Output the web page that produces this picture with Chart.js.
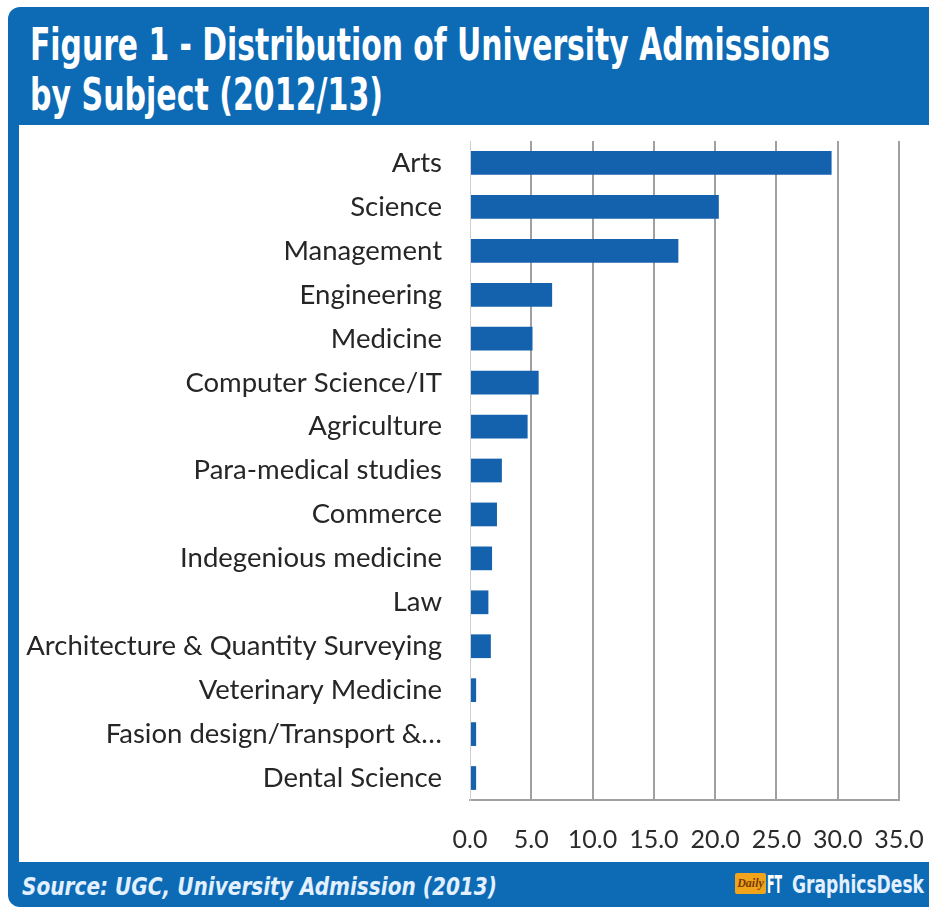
<!DOCTYPE html>
<html>
<head>
<meta charset="utf-8">
<script src="https://cdn.jsdelivr.net/npm/chart.js@4.4.0/dist/chart.umd.min.js"></script>
<style>
  html, body { margin: 0; padding: 0; background: #fff; overflow: hidden; }
  body { width: 929px; height: 909px; position: relative; }
  #frame {
    position: absolute; left: 8px; top: 7px; width: 940px; height: 900px;
    background: #0d6bb6; border-radius: 12px;
  }
  .narrow {
    position: absolute; white-space: nowrap; display: inline-block;
    font-family: "Liberation Sans Narrow", "DejaVu Sans Condensed", "Liberation Sans", sans-serif;
    font-weight: bold; line-height: 1; transform-origin: 0 0;
  }
  .title { color: #fff; font-size: 45px; left: 30px; }
  .foot { color: #e2f0ff; font-size: 25px; }
  #panel {
    position: absolute; left: 19px; top: 125px; width: 910px; height: 737px; background: #fff;
  }
  #logo {
    position: absolute; left: 735px; top: 873px; width: 31px; height: 21px;
    background: #f0a41c; border-radius: 2px; color: #7a3b00;
    font: italic bold 12px "Liberation Serif", serif; line-height: 21px; text-align: center;
  }
</style>
</head>
<body>
<div id="frame"></div>
<div class="narrow title" id="t1" style="top:22px">Figure 1 - Distribution of University Admissions</div>
<div class="narrow title" id="t2" style="top:72px">by Subject (2012/13)</div>
<div id="panel"><canvas id="myChart" width="910" height="737"></canvas></div>
<div class="narrow foot" id="src" style="left:22px; top:874px; font-style:italic">Source: UGC, University Admission (2013)</div>
<div id="logo">Daily</div>
<div class="narrow foot" id="ft" style="left:767px; top:872px; color:#fff">FT</div>
<div class="narrow foot" id="desk" style="left:792px; top:872px">GraphicsDesk</div>
<script>
'use strict';

const categories = [
	'Arts',
	'Science',
	'Management',
	'Engineering',
	'Medicine',
	'Computer Science/IT',
	'Agriculture',
	'Para-medical studies',
	'Commerce',
	'Indegenious medicine',
	'Law',
	'Architecture & Quantity Surveying',
	'Veterinary Medicine',
	'Fasion design/Transport &\u2026',
	'Dental Science',
];
const shares = [29.5, 20.3, 17.0, 6.7, 5.1, 5.6, 4.7, 2.6, 2.2, 1.8, 1.5, 1.7, 0.5, 0.5, 0.5];
const xTicks = [0, 5, 10, 15, 20, 25, 30, 35];

// squeeze the condensed headline text to the widths in the original
const fitWidth = (id, w) => {
	const el = document.getElementById(id);
	const r = el.getBoundingClientRect().width;
	el.style.transform = 'scaleX(' + (w / r) + ')';
};
fitWidth('t1', 800);
fitWidth('t2', 353);
fitWidth('src', 475);
fitWidth('ft', 15);
fitWidth('desk', 132);

const labelFont = { family: 'Lato, "Open Sans", sans-serif', size: 27.5 };
const tickFont = { family: 'Lato, "Open Sans", sans-serif', size: 25 };

const ctx = document.getElementById('myChart').getContext('2d');

const myChart = new Chart(ctx, {
	type: 'bar',
	data: {
		labels: categories,
		datasets: [
			{
				data: shares,
				backgroundColor: '#1461ae',
				borderWidth: 0,
				barPercentage: 0.54,
				categoryPercentage: 1,
			},
		],
	},
	options: {
		indexAxis: 'y',
		responsive: false,
		animation: false,
		layout: {
			padding: { top: 16, right: 30, left: 0, bottom: 0 },
		},
		plugins: {
			legend: { display: false },
			tooltip: { enabled: false },
		},
		scales: {
			x: {
				min: xTicks[0],
				max: xTicks[xTicks.length - 1],
				afterBuildTicks: (scale) => {
					scale.ticks = xTicks.map((v) => ({ value: v }));
				},
				afterFit: (scale) => {
					scale.height = 62;
					scale.paddingLeft = 0;
					scale.paddingRight = 0;
				},
				ticks: {
					callback: (v) => Number(v).toFixed(1),
					font: tickFont,
					color: '#2b2b2b',
					padding: 25,
					maxRotation: 0,
				},
				grid: {
					drawTicks: false,
					lineWidth: 2,
					color: (c) => (c.tick && c.tick.value === 0 ? 'rgba(0,0,0,0)' : '#a0a0a0'),
				},
				border: { color: '#a0a0a0', width: 2 },
			},
			y: {
				afterFit: (scale) => {
					scale.width = 451;
					scale.paddingTop = 0;
					scale.paddingBottom = 0;
				},
				ticks: {
					font: labelFont,
					color: '#262626',
					padding: 28,
					autoSkip: false,
				},
				grid: { display: false, drawTicks: false },
				border: { color: '#cfcfcf', width: 1 },
			},
		},
	},
});
</script>
</body>
</html>
